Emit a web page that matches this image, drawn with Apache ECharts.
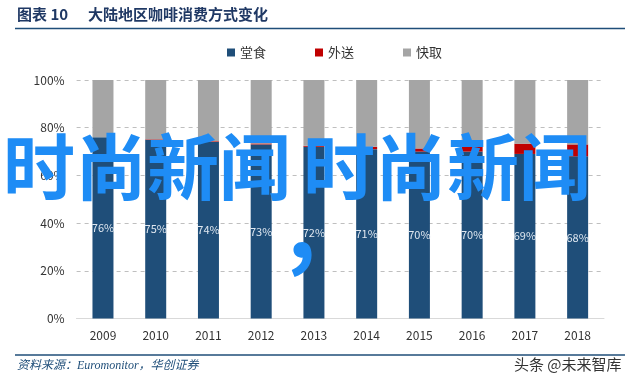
<!DOCTYPE html>
<html><head><meta charset="utf-8">
<script src="https://cdn.jsdelivr.net/npm/echarts@6/dist/echarts.min.js"></script>
<style>html,body{margin:0;padding:0;background:#fff}#c{width:640px;height:385px}</style>
</head><body><div id="c"></div>
<script>
var years = ['2009','2010','2011','2012','2013','2014','2015','2016','2017','2018'];
var dineIn = [76,75,74,73,72,71,70,70,69,68];
var delivery = [0,0.2,0.3,0.4,0.4,1.0,1.3,2.5,4.3,5.0];
var takeaway = [24,24.8,25.7,26.6,27.6,28,28.7,27.5,26.7,27];
var seriesNames = ['堂食','外送','快取'];
var yTicks = [0,20,40,60,80,100];

var FONT = '"Noto Sans CJK SC", "Noto Sans", sans-serif';
var chart = echarts.init(document.getElementById('c'), null, {renderer:'canvas'});
chart.setOption({
  animation:false,
  textStyle:{fontFamily:FONT},
  grid:{left:76.6,right:36,top:80,bottom:66.5},
  legend:{
    top:41, left:222, itemWidth:8, itemHeight:8, itemGap:49, icon:'rect',
    textStyle:{fontSize:13,color:'#333',fontFamily:FONT},
    data:seriesNames
  },
  xAxis:{
    type:'category', data:years,
    axisLine:{lineStyle:{color:'#d9d9d9'}},
    axisTick:{show:false},
    axisLabel:{color:'#333',fontSize:12,margin:11,fontFamily:FONT}
  },
  yAxis:{
    type:'value', min:yTicks[0], max:yTicks[yTicks.length-1], interval:20,
    axisLine:{show:false}, axisTick:{show:false},
    axisLabel:{formatter:'{value}%',color:'#333',fontSize:12,margin:12,fontFamily:FONT},
    splitLine:{lineStyle:{type:[4,4],color:'#bfbfbf'}}
  },
  series:[
    {name:seriesNames[0],type:'bar',stack:'s',data:dineIn,barWidth:21,
     itemStyle:{color:'#1F4E79'},
     label:{show:true,position:'inside',formatter:'{c}%',color:'#dfe7f0',fontSize:11,fontFamily:FONT}},
    {name:seriesNames[1],type:'bar',stack:'s',data:delivery,barWidth:21,itemStyle:{color:'#C00000'}},
    {name:seriesNames[2],type:'bar',stack:'s',data:takeaway,barWidth:21,itemStyle:{color:'#A5A5A5'}}
  ],
  graphic:[
    {type:'text',left:17,top:7,style:{text:'图表 10',font:'bold 15px '+FONT,fill:'#1F3864'}},
    {type:'text',left:88,top:7,style:{text:'大陆地区咖啡消费方式变化',font:'bold 15px '+FONT,fill:'#1F3864'}},
    {type:'line',shape:{x1:15,y1:28.5,x2:625,y2:28.5},style:{stroke:'#1F4E79',lineWidth:1.5}},
    {type:'line',shape:{x1:15,y1:355,x2:625,y2:355},style:{stroke:'#1F4E79',lineWidth:1.5}},
    {type:'text',left:17,top:360,style:{text:'资料来源：Euromonitor，华创证券',font:'italic 12px "Liberation Serif", '+FONT,fill:'#1F4E79'}},
    {type:'text',left:514,top:357,style:{text:'头条 @未来智库',font:'15px '+FONT,fill:'#333'}},
    {type:'text',left:3,top:131,z:100,style:{text:'时尚新闻',font:'bold 72px '+FONT,fill:'#1E8CF5'}},
    {type:'text',left:287,top:179,z:100,style:{text:',',font:'bold 90px '+FONT,fill:'#1E8CF5'}},
    {type:'text',left:303,top:131,z:100,style:{text:'时尚新闻',font:'bold 72px '+FONT,fill:'#1E8CF5'}}
  ]
});
</script></body></html>
